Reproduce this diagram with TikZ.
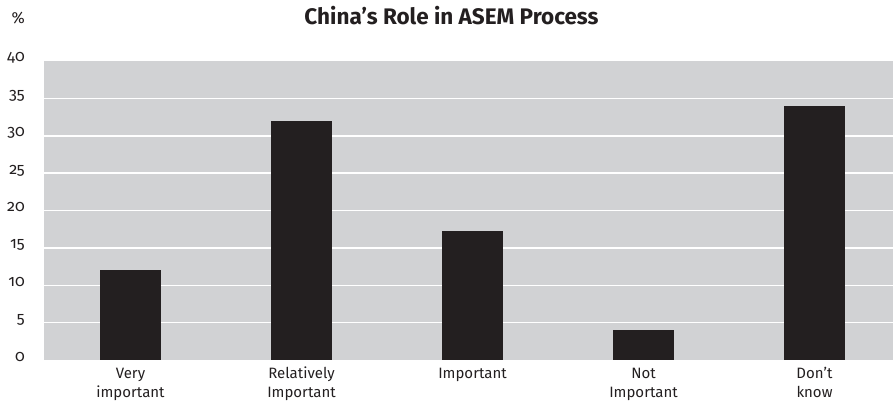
\documentclass[tikz,border=0pt]{standalone}
\usepackage{fontspec}
\setmainfont{Fira Sans}[Numbers=OldStyle]
\definecolor{plotbg}{HTML}{D1D2D4}
\definecolor{barcol}{HTML}{231F20}
\definecolor{txtcol}{HTML}{231F20}
\tikzset{
  bar/.style={fill=barcol,draw=none},
  grid line/.style={draw=white,line width=1.5pt},
  ylab/.style={anchor=base east,inner sep=0pt,font=\fontsize{16}{16}\selectfont,text=txtcol},
  catlab/.style={anchor=base,inner sep=0pt,font=\fontsize{15}{15}\selectfont,text=txtcol},
}
\begin{document}
\begin{tikzpicture}[x=1pt,y=-1pt]
\useasboundingbox (0,0) rectangle (893,404);
% plot area
\fill[plotbg] (44,61) rectangle (893,360);
\foreach \v in {5,10,...,35} {
  \draw[grid line] (44,{360-\v*7.475}) -- (893,{360-\v*7.475});
}
% y labels
\foreach \v in {0,5,...,40} {
  \node[ylab] (y\v) at (25,{361-\v*7.475}) {\v};
}
\node[ylab] (pct) at (25,24) {\%};
% title
\node[anchor=base,inner sep=0pt,font=\fontsize{22.5}{22.5}\selectfont\bfseries,text=txtcol] (title) at (451.5,25) {China’s Role in ASEM Process};
% bars
\foreach \i/\val in {0/12,1/32,2/17.25,3/4,4/34} {
  \fill[bar] ({100+171*\i},360) rectangle ({161+171*\i},{360-\val*7.475});
}
% category labels
\node[catlab] (c1a) at (130.5,378) {Very};
\node[catlab] (c1b) at (130.5,397) {important};
\node[catlab] (c2a) at (301.5,378) {Relatively};
\node[catlab] (c2b) at (301.5,397) {Important};
\node[catlab] (c3a) at (472.5,378) {Important};
\node[catlab] (c4a) at (643.5,378) {Not};
\node[catlab] (c4b) at (643.5,397) {Important};
\node[catlab] (c5a) at (814.5,378) {Don’t};
\node[catlab] (c5b) at (814.5,397) {know};
\end{tikzpicture}
\end{document}
